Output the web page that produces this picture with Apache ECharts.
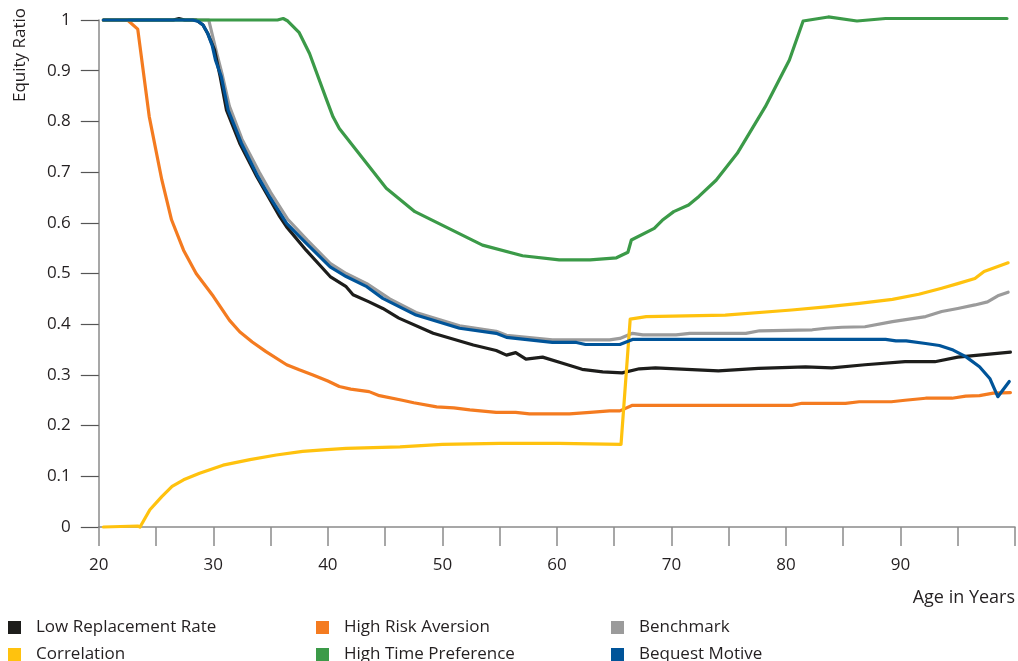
<!DOCTYPE html>
<html>
<head>
<meta charset="utf-8">
<script src="https://cdn.jsdelivr.net/npm/echarts@6/dist/echarts.min.js"></script>
<style>
html,body{margin:0;padding:0;background:#fff;}
#chart{width:1018px;height:661px;}
</style>
</head>
<body>
<div id="chart"></div>
<script>
// ---- data: [age, equity ratio] ----
var lowReplacement = [[20.4,1],[26.5,1],[27,1.003],[27.5,1],[28.5,1],[29.1,0.99],[29.5,0.974],[30.1,0.941],[30.6,0.888],[31.15,0.822],[32.3,0.757],[33.8,0.691],[35.8,0.612],[36.4,0.592],[38.1,0.546],[40.2,0.494],[41.6,0.474],[42.2,0.458],[43.6,0.444],[44.8,0.431],[46.2,0.412],[49.2,0.382],[52.7,0.359],[54.7,0.348],[55.6,0.339],[56.4,0.344],[57.3,0.331],[58.75,0.335],[60.5,0.323],[62.2,0.311],[64,0.306],[65.7,0.304],[67.2,0.312],[68.6,0.314],[74.1,0.308],[77.6,0.313],[81.7,0.316],[84,0.314],[86.9,0.32],[90.4,0.326],[93,0.326],[95,0.335],[99.6,0.345]];
var highRiskAversion = [[20.4,1],[22.5,1],[23.4,0.982],[24.4,0.81],[25.5,0.685],[26.35,0.606],[27.4,0.546],[28.5,0.5],[30,0.455],[31.4,0.408],[32.3,0.385],[33.4,0.365],[34.6,0.346],[36.4,0.32],[37.5,0.31],[38.7,0.3],[40,0.288],[41,0.277],[42,0.272],[43.6,0.267],[44.5,0.259],[46.5,0.25],[47.5,0.245],[49.5,0.237],[51,0.235],[52.4,0.231],[54.7,0.226],[56.4,0.226],[57.6,0.223],[61.1,0.223],[62.9,0.226],[64.6,0.229],[65.5,0.229],[66.6,0.24],[80.5,0.24],[81.4,0.244],[85.2,0.244],[86.4,0.247],[89.2,0.247],[90.4,0.25],[92.2,0.254],[94.5,0.254],[95.7,0.258],[96.9,0.259],[98.1,0.264],[99.6,0.265]];
var benchmark = [[20.4,1],[29.6,1],[30.3,0.934],[30.8,0.89],[31.4,0.83],[32.5,0.765],[34,0.7],[35,0.66],[36.5,0.607],[38.2,0.566],[40.2,0.52],[41.6,0.5],[43.4,0.48],[45.4,0.45],[47.7,0.423],[51.5,0.397],[54.7,0.386],[55.6,0.378],[59.6,0.369],[64.6,0.369],[65.5,0.372],[66.6,0.382],[67.5,0.379],[70.4,0.379],[71.6,0.382],[76.5,0.382],[77.7,0.387],[82.3,0.389],[83.5,0.392],[84.9,0.394],[86.9,0.395],[89.3,0.405],[92.2,0.415],[93.6,0.425],[95,0.431],[96.5,0.438],[97.6,0.444],[98.5,0.456],[99.4,0.463]];
var correlation = [[20.4,0],[23.4,0.002],[23.6,0],[24.46,0.034],[25.5,0.06],[26.4,0.08],[27.4,0.093],[28.8,0.106],[30.85,0.122],[33.2,0.133],[35.5,0.142],[37.8,0.149],[39.6,0.152],[41.6,0.155],[46.3,0.158],[50,0.163],[55,0.165],[60.2,0.165],[65.6,0.163],[66.4,0.41],[67.8,0.415],[74.7,0.418],[80.5,0.428],[83.5,0.434],[86.4,0.441],[89.3,0.449],[91.6,0.459],[93.6,0.471],[95,0.48],[96.5,0.49],[97.3,0.504],[99.4,0.521]];
var highTimePreference = [[20.4,1],[35.6,1],[36.1,1.003],[36.5,0.998],[37.5,0.975],[38.4,0.934],[39.9,0.842],[40.45,0.809],[41,0.786],[45.1,0.668],[47.6,0.622],[53.5,0.556],[57,0.535],[60.2,0.527],[62.9,0.527],[65.2,0.531],[66.2,0.542],[66.5,0.566],[68.5,0.589],[69.2,0.605],[70.2,0.622],[71.5,0.635],[72.4,0.652],[73.9,0.684],[75.75,0.737],[78.2,0.829],[80.3,0.921],[81.5,0.998],[83.7,1.006],[86.2,0.998],[88.7,1.003],[99.3,1.003]];
var bequestMotive = [[20.4,1],[28.2,1],[28.7,0.997],[29.1,0.99],[29.5,0.974],[29.9,0.95],[30.2,0.92],[30.7,0.888],[31.3,0.822],[32.45,0.757],[33.9,0.691],[34.9,0.652],[36.4,0.599],[38.1,0.56],[40.2,0.513],[41.6,0.494],[43.4,0.474],[44.8,0.451],[45.4,0.444],[47.7,0.418],[51.5,0.392],[54.7,0.382],[55.6,0.374],[59.6,0.364],[61.7,0.364],[62.5,0.36],[65.5,0.36],[66.6,0.37],[88.7,0.37],[89.6,0.367],[90.5,0.367],[92.2,0.362],[93.4,0.358],[94.6,0.349],[95.7,0.336],[96.9,0.316],[97.8,0.293],[98.5,0.257],[99.5,0.287]];

var seriesNames = ['Low Replacement Rate','High Risk Aversion','Benchmark','Correlation','High Time Preference','Bequest Motive'];
var seriesColors = ['#1d1d1b','#f47b20','#9b9b9b','#ffc20e','#3b9a48','#005499'];
var seriesData = [lowReplacement, highRiskAversion, benchmark, correlation, highTimePreference, bequestMotive];
var drawOrder = [2,0,1,4,3,5];
var xTickLabels = ['20','30','40','50','60','70','80','90'];

var FONT = 'Open Sans';
var chart = echarts.init(document.getElementById('chart'));

var series = drawOrder.map(function(i){
  return {
    name: seriesNames[i], type:'line', data: seriesData[i],
    showSymbol:false, symbol:'none', clip:false, silent:true,
    lineStyle:{color:seriesColors[i], width:3.2, cap:'round', join:'round'},
    itemStyle:{color:seriesColors[i]}
  };
});

var legendPos = [
  {left:8, top:619},{left:316, top:619},{left:611, top:619},
  {left:8, top:646},{left:316, top:646},{left:611, top:646}
];
var legends = seriesNames.map(function(n,i){
  return {
    data:[{name:n, icon:'rect'}], left:legendPos[i].left, top:legendPos[i].top,
    itemWidth:13, itemHeight:13, padding:0, selectedMode:false,
    textStyle:{fontFamily:FONT, fontSize:17, color:'#231f20', padding:[0,0,0,10]}
  };
});

chart.setOption({
  animation:false,
  backgroundColor:'#fff',
  grid:{left:98.8, right:1, top:20, bottom:134, containLabel:false},
  legend: legends,
  xAxis:{
    type:'value', min:20, max:100, interval:5,
    axisLine:{show:true, lineStyle:{color:'#8a8a8a', width:1.5}},
    axisTick:{show:true, inside:false, length:19, lineStyle:{color:'#8a8a8a', width:1.5}},
    axisLabel:{margin:30, fontFamily:FONT, fontSize:17, color:'#231f20',
      formatter:function(v){ var s=String(v); return xTickLabels.indexOf(s)>=0 ? s : ''; }},
    splitLine:{show:false}
  },
  yAxis:{
    type:'value', min:0, max:1, interval:0.1,
    axisLine:{show:true, lineStyle:{color:'#8a8a8a', width:1.5}},
    axisTick:{show:true, length:18, lineStyle:{color:'#555', width:1.2}},
    axisLabel:{margin:28, fontFamily:FONT, fontSize:17, color:'#231f20',
      formatter:function(v){ return String(Math.round(v*10)/10); }},
    splitLine:{show:false}
  },
  graphic:[
    {type:'text', x:20, y:55, rotation:Math.PI/2, style:{text:'Equity Ratio', fontFamily:FONT, fontSize:17, fill:'#231f20', align:'center', verticalAlign:'middle'}},
    {type:'text', x:1015, y:598, style:{text:'Age in Years', fontFamily:FONT, fontSize:18, fill:'#231f20', align:'right', verticalAlign:'middle'}}
  ],
  series: series
});
</script>
</body>
</html>
